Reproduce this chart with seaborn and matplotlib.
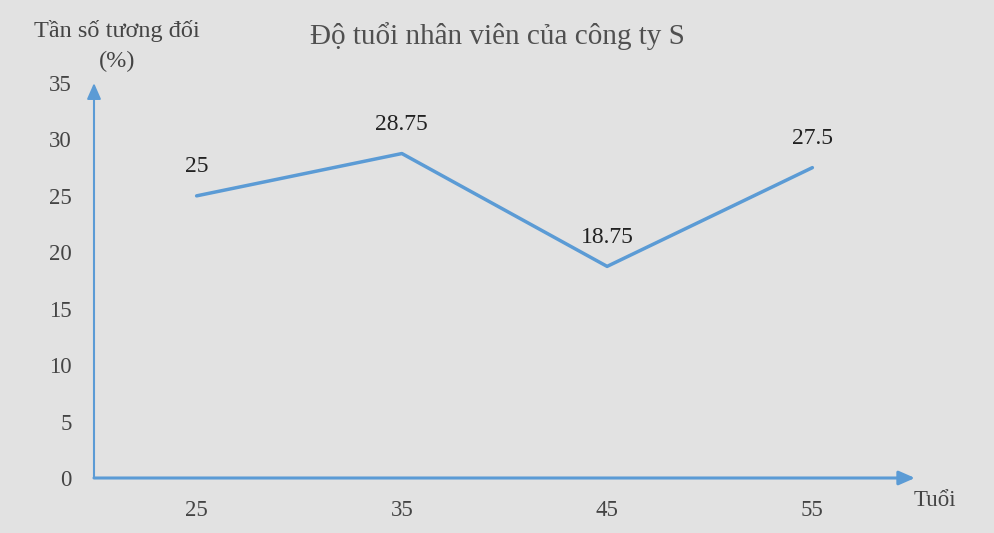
import matplotlib
matplotlib.use("Agg")
import matplotlib.pyplot as plt
import seaborn as sns
import pandas as pd

ages = ["25", "35", "45", "55"]
freq = [25, 28.75, 18.75, 27.5]
freq_labels = ["25", "28.75", "18.75", "27.5"]
yticks = [0, 5, 10, 15, 20, 25, 30, 35]

sns.set_theme(style="white")
plt.rcParams['font.family'] = ['Liberation Serif', 'DejaVu Serif']

BG = "#e2e2e2"
BLUE = "#5b9bd5"
TXT = "#444444"

df = pd.DataFrame({"age": ages, "freq": freq})

fig = plt.figure(figsize=(9.94, 5.33), dpi=100, facecolor=BG)
ax = fig.add_axes([94/994, (533-478)/533, (915-94)/994, (478-83)/533])
ax.set_facecolor(BG)

sns.lineplot(data=df, x="age", y="freq", ax=ax, color=BLUE, linewidth=2.5, sort=False)

ax.set_xlim(-0.5, 3.5)
ax.set_ylim(0, 35)
ax.set_yticks(yticks)
ax.set_yticklabels([str(v) for v in yticks])
for s in ax.spines.values():
    s.set_visible(False)
ax.tick_params(axis="both", length=0, labelsize=16.5, colors=TXT)
ax.tick_params(axis="x", pad=16)
ax.tick_params(axis="y", pad=16)
ax.set_xlabel("")
ax.set_ylabel("")

# axes with arrows
ax.annotate("", xy=(1.0, 0), xytext=(0, 0), xycoords="axes fraction",
            arrowprops=dict(arrowstyle="-|>,head_length=0.8,head_width=0.35", color=BLUE, lw=2.2,
                            shrinkA=0, shrinkB=0), annotation_clip=False)
ax.annotate("", xy=(0, 1.0), xytext=(0, 0), xycoords="axes fraction",
            arrowprops=dict(arrowstyle="-|>,head_length=0.8,head_width=0.35", color=BLUE, lw=1.5,
                            shrinkA=0, shrinkB=0), annotation_clip=False)

for i, (v, lab) in enumerate(zip(freq, freq_labels)):
    ax.annotate(lab, xy=(i, v), xytext=(0, 29), textcoords="offset pixels",
                ha="center", va="center", fontsize=17, color="#222222")

fig.text(497/994, 1 - 36/533, "Độ tuổi nhân viên của công ty S", ha="center", va="center",
         fontsize=21, color="#505050")
fig.text(117/994, 1 - 31/533, "Tần số tương đối", ha="center", va="center", fontsize=17.5, color=TXT)
fig.text(117/994, 1 - 61/533, "(%)", ha="center", va="center", fontsize=17.5, color=TXT)
fig.text(935/994, 1 - 500/533, "Tuổi", ha="center", va="center", fontsize=16.5, color=TXT)

fig.savefig("out.png", dpi=100, facecolor=BG)
